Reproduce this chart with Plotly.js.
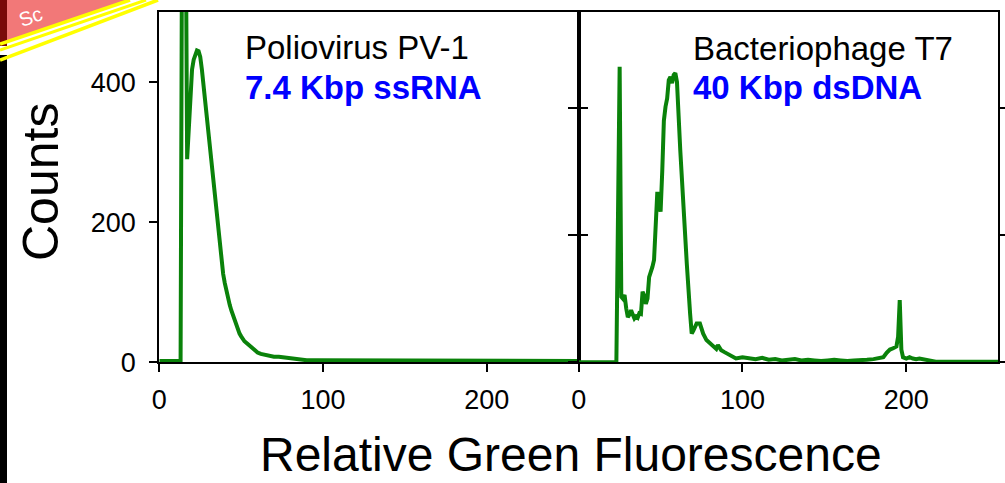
<!DOCTYPE html>
<html>
<head>
<meta charset="utf-8">
<script src="https://cdn.plot.ly/plotly-3.0.1.min.js"></script>
<style>html,body{margin:0;padding:0;background:#fff;}#chart{width:1005px;height:483px;}</style>
</head>
<body>
<div id="chart"></div>
<script>
// Poliovirus PV-1 histogram (relative green fluorescence channel vs counts)
const pvX = [0,5,10,13,14,15,16,17,18,19,20,21,22,23,24,25,26,27,28,29,30,31,32,33,34,35,36,37,38,39,40,41,42,43,44,45,46,47,48,49,50,52,54,56,58,60,62,64,66,68,70,73,76,80,85,90,95,100,110,120,130,140,150,160,170,180,190,200,210,220,230,240,250,256];
const pvY = [2,2,2,2,700,900,700,290,340,385,418,432,441,445,444,436,418,395,372,350,328,305,282,258,235,210,186,162,140,126,113,101,90,82,74,67,60,53,47,41,37,30,26,22,17,14,12,11,10,9,8,8,7,5,4,3,3,3,2,2,2,2,2,2,2,2,2,2,2,2,2,2,2,2];

// Bacteriophage T7 histogram
const t7X = [0,10,20,23,25,26,27,28,29,30,31,32,33,34,35,36,37,38,39,40,41,42,43,44,45,46,47,48,49,50,51,52,53,54,55,56,57,58,59,60,62,64,66,68,69,70,72,74,76,78,80,82,84,85,87,89,92,96,100,104,108,112,116,120,124,128,132,136,140,144,148,152,156,160,164,168,172,176,180,183,186,188,190,192,194,195,196,197,198,200,202,204,206,208,210,212,214,216,218,230,240,256];
const t7Y = [0,0,0,0,465,103,100,106,85,71,75,82,75,69,72,70,77,76,111,105,92,100,134,140,150,161,230,268,250,237,300,380,402,415,444,449,439,452,455,441,334,234,155,77,45,50,61,61,45,35,30,24,21,27,19,16,11,6,8,6,5,7,4,5,3,4,5,3,4,3,2,3,4,3,2,3,3,4,5,6,8,15,20,22,25,40,98,20,8,6,8,6,5,6,5,4,3,2,1,1,1,1];

// Tick labels
const xTicks = [0, 100, 200];
const yTicksPV = [0, 200, 400];
const yTicksT7 = [0, 200, 400];

// Panel texts
const pvName = "Poliovirus PV-1";
const pvGenome = "7.4 Kbp ssRNA";
const t7Name = "Bacteriophage T7";
const t7Genome = "40 Kbp dsDNA";
const yTitle = "Counts";
const xTitle = "Relative Green Fluorescence";
const logoText = "Sc";

const W = 1005, H = 483;
const px = v => v / W;
const py = v => 1 - v / H;

const font = "Liberation Sans, Arial, sans-serif";
const green = "#0a820a";

const traces = [
  {x: pvX, y: pvY, xaxis: "x", yaxis: "y", type: "scatter", mode: "lines",
   line: {color: green, width: 4}, hoverinfo: "skip"},
  {x: t7X, y: t7Y, xaxis: "x2", yaxis: "y2", type: "scatter", mode: "lines",
   line: {color: green, width: 4}, hoverinfo: "skip"},
  {x: [], y: [], xaxis: "x2", yaxis: "y3", type: "scatter", mode: "lines", hoverinfo: "skip"}
];

const yDom = [py(362.3), py(12)];
const common = {
  showline: true, linecolor: "#000", linewidth: 2, showgrid: false, zeroline: false,
  ticks: "outside", ticklen: 8, tickwidth: 2, tickcolor: "#000",
  tickfont: {family: font, size: 27, color: "#000"}, fixedrange: true
};

const layout = {
  width: W, height: H,
  margin: {l: 0, r: 0, t: 0, b: 0},
  paper_bgcolor: "#fff", plot_bgcolor: "rgba(0,0,0,0)",
  showlegend: false,
  xaxis: Object.assign({}, common, {domain: [px(159.3), px(578.5)], range: [0, 256], tickvals: xTicks, ticktext: xTicks.map(String), mirror: true, anchor: "y", ticklabelstandoff: 4}),
  yaxis: Object.assign({}, common, {domain: yDom, range: [0, 500], tickvals: yTicksPV, ticktext: yTicksPV.map(String), mirror: true, anchor: "x", ticklabelstandoff: 8}),
  xaxis2: Object.assign({}, common, {domain: [px(578.7), px(998)], range: [0, 256], tickvals: xTicks, ticktext: xTicks.map(String), mirror: true, anchor: "y2", ticklabelstandoff: 4}),
  yaxis2: Object.assign({}, common, {domain: yDom, range: [0, 551], tickvals: yTicksT7, showticklabels: false, ticklen: 9, mirror: "ticks", anchor: "x2"}),
  yaxis3: Object.assign({}, common, {domain: yDom, range: [0, 551], tickvals: yTicksT7, showticklabels: false, ticks: "inside", ticklen: 9, showline: false, overlaying: "y2", side: "left", anchor: "x2"}),
  shapes: [
    {type: "path", xref: "paper", yref: "paper", path: `M 0 1 L ${px(130)} 1 L 0 ${py(44)} Z`, fillcolor: "#f27878", line: {width: 0}, layer: "below"},
    {type: "rect", xref: "paper", yref: "paper", x0: 0, x1: px(7), y0: py(46), y1: 1, fillcolor: "#7a0a0a", line: {width: 0}, layer: "below"},
    {type: "rect", xref: "paper", yref: "paper", x0: 0, x1: px(7), y0: 0, y1: py(55), fillcolor: "#000", line: {width: 0}, layer: "above"},
    {type: "line", xref: "paper", yref: "paper", x0: 0, y0: py(44), x1: px(130), y1: 1, line: {color: "#ffff00", width: 3.5}, layer: "above"},
    {type: "line", xref: "paper", yref: "paper", x0: 0, y0: py(50), x1: px(146), y1: 1, line: {color: "#ffff00", width: 3}, layer: "above"},
    {type: "line", xref: "paper", yref: "paper", x0: 0, y0: py(60), x1: px(158), y1: 1, line: {color: "#ffff00", width: 3.5}, layer: "above"}
  ],
  annotations: [
    {text: logoText, xref: "paper", yref: "paper", x: px(30), y: py(17), xanchor: "center", yanchor: "middle", showarrow: false, textangle: -20, font: {family: font, size: 20, color: "#fff"}},
    {text: pvName, xref: "paper", yref: "paper", x: px(243), y: py(48), xanchor: "left", yanchor: "middle", showarrow: false, font: {family: font, size: 33, color: "#000"}},
    {text: "<b>" + pvGenome + "</b>", xref: "paper", yref: "paper", x: px(243), y: py(87), xanchor: "left", yanchor: "middle", showarrow: false, font: {family: font, size: 33, color: "#0000ff"}},
    {text: t7Name, xref: "paper", yref: "paper", x: px(691), y: py(48.5), xanchor: "left", yanchor: "middle", showarrow: false, font: {family: font, size: 33, color: "#000"}},
    {text: "<b>" + t7Genome + "</b>", xref: "paper", yref: "paper", x: px(691), y: py(87.5), xanchor: "left", yanchor: "middle", showarrow: false, font: {family: font, size: 33, color: "#0000ff"}},
    {text: yTitle, xref: "paper", yref: "paper", x: px(40.5), y: py(182.5), xanchor: "center", yanchor: "middle", showarrow: false, textangle: -90, font: {family: font, size: 50, color: "#000"}},
    {text: xTitle, xref: "paper", yref: "paper", x: px(571), y: py(454), xanchor: "center", yanchor: "middle", showarrow: false, font: {family: font, size: 48, color: "#000"}}
  ]
};

Plotly.newPlot("chart", traces, layout, {displayModeBar: false, staticPlot: true});
</script>
</body>
</html>
